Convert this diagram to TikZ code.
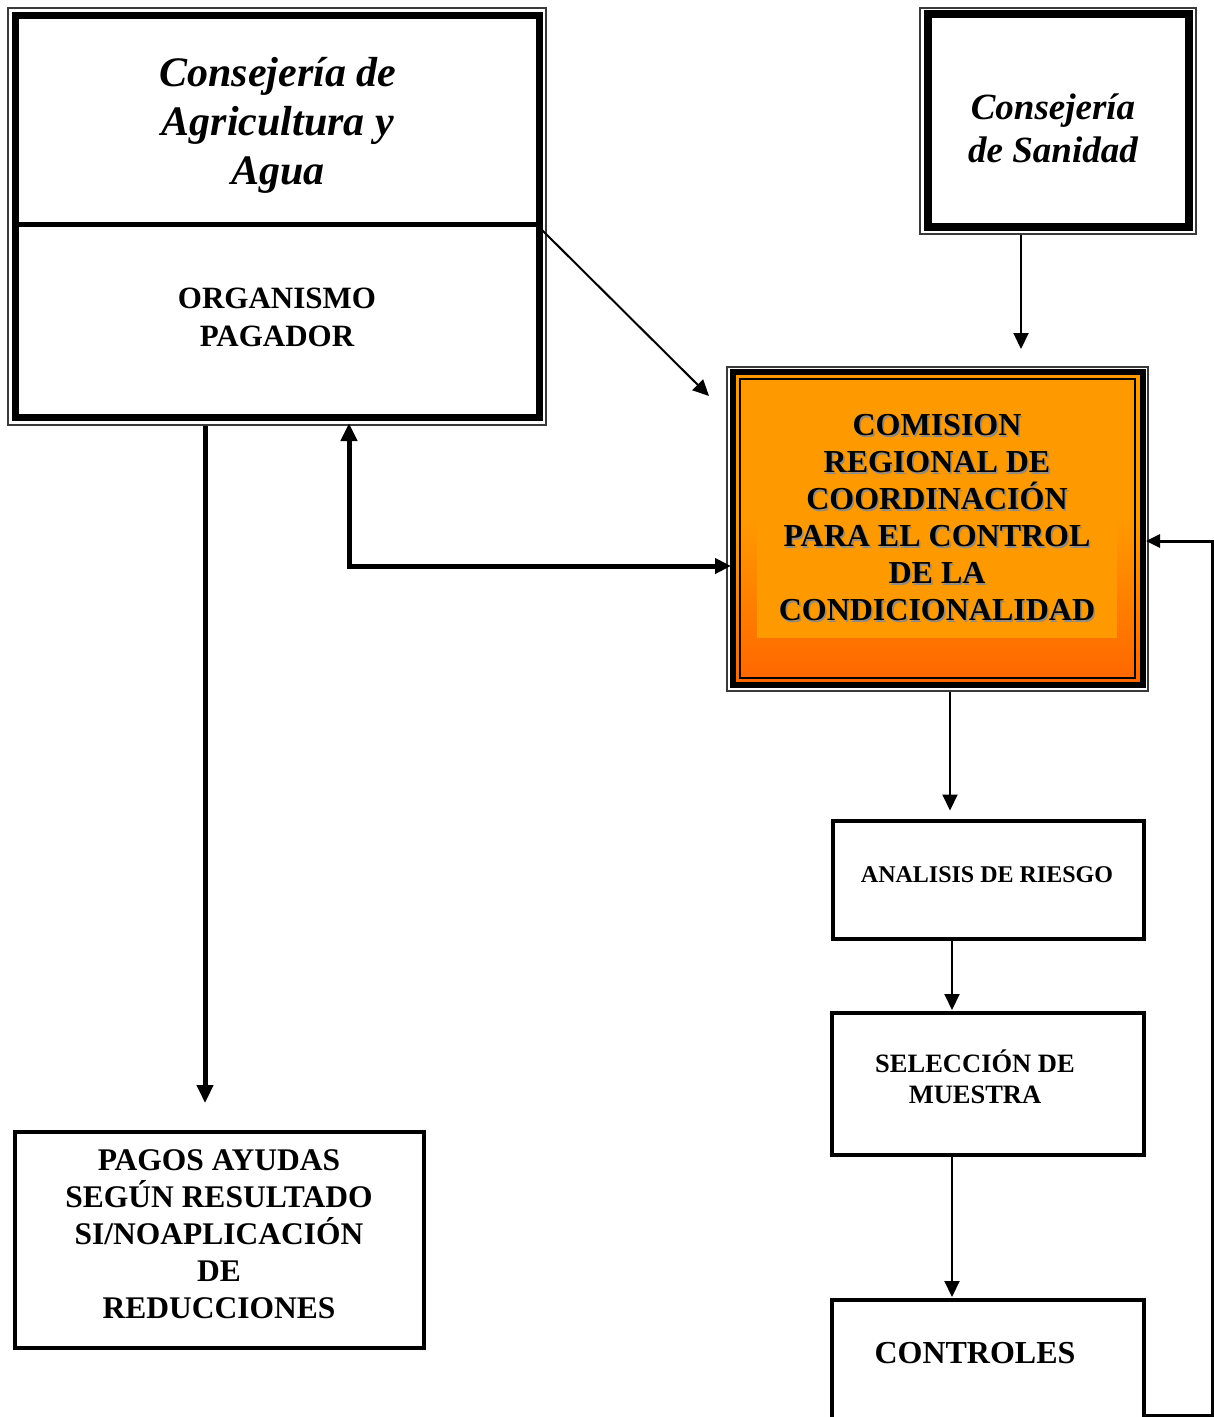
\documentclass[tikz,border=0pt]{standalone}
\usepackage{fontspec}
\setmainfont{Liberation Serif}
\usetikzlibrary{arrows.meta}
\definecolor{orA}{HTML}{FF9900}
\definecolor{orB}{HTML}{FF6600}
\definecolor{framegray}{HTML}{3A3A3A}
\definecolor{shadowgray}{HTML}{8C8C8C}
\newcommand{\comtext}{COMISION\\REGIONAL DE\\COORDINACIÓN\\PARA EL CONTROL\\DE LA\\CONDICIONALIDAD}
\begin{document}
\begin{tikzpicture}[x=1pt,y=-1pt,
  outerframe/.style={draw=framegray, line width=2pt, inner sep=0pt},
  heavybox/.style={draw, inner sep=0pt},
  plainbox/.style={draw, line width=4pt, inner sep=0pt, minimum width=311.5pt},
  lbl/.style={inner sep=0pt, align=center, text=black},
  thinarrow/.style={line width=2pt, -{Triangle[length=16pt,width=15pt]}},
  boldarrow/.style={line width=5pt, -{Triangle[length=18pt,width=16pt]}},
  dblarrow/.style={line width=5pt, {Triangle[length=16pt,width=15pt]}-{Triangle[length=18pt,width=16pt]}},
  fbarrow/.style={line width=3pt, -{Triangle[length=14pt,width=13pt]}}]
\clip (0,0) rectangle (1214,1417);
\fill[white] (0,0) rectangle (1214,1417);

% ---- Consejeria de Agricultura y Agua / Organismo Pagador
\node[outerframe, minimum width=538pt, minimum height=417pt] (agrframe) at (277,216.5) {};
\node[heavybox, line width=7pt, minimum width=523.5pt, minimum height=401.5pt] (agr) at (277.25,216.25) {};
\coordinate (divL) at (15.5,224);
\coordinate (divR) at (539,224);
\draw[line width=5pt] (divL) -- (divR);
\node[lbl, font=\fontsize{42}{49}\selectfont\bfseries\itshape] (agrtxt) at (278,125) {Consejería de\\Agricultura y\\Agua};
\node[lbl, font=\fontsize{31}{38}\selectfont\bfseries] (pagtxt) at (277,317) {ORGANISMO\\PAGADOR};

% ---- Consejeria de Sanidad
\node[outerframe, minimum width=276pt, minimum height=226pt] (sanframe) at (1058,121) {};
\node[heavybox, line width=8pt, minimum width=261pt, minimum height=213pt] (san) at (1058.5,120.5) {};
\node[lbl, font=\fontsize{37}{43}\selectfont\bfseries\itshape] (santxt) at (1053,128.5) {Consejería\\de Sanidad};

% ---- Comision regional (orange)
\fill[orA] (736,375) rectangle (1140,682);
\shade[top color=orA, bottom color=orB] (736,520) rectangle (1140,682);
\fill[orA] (757,398) rectangle (1117,638);
\draw[line width=2.5pt] (740,379) rectangle (1135,678);
\node[heavybox, line width=6pt, minimum width=410pt, minimum height=313pt] (com) at (938,528.5) {};
\node[outerframe, minimum width=421pt, minimum height=324pt] (comframe) at (937.5,529) {};
\node[lbl, text=shadowgray, font=\fontsize{32}{37}\selectfont\bfseries] (comshadow) at (938.6,519.6) {\comtext};
\node[lbl, font=\fontsize{32}{37}\selectfont\bfseries] (comtxt) at (937,518) {\comtext};

% ---- Right column boxes
\node[plainbox, minimum height=118.5pt] (ana) at (988.25,879.75) {};
\node[lbl, font=\fontsize{24}{28}\selectfont\bfseries] (anatxt) at (987,875) {ANALISIS DE RIESGO};
\node[plainbox, minimum height=142pt] (sel) at (987.75,1084) {};
\node[lbl, font=\fontsize{26.5}{31}\selectfont\bfseries] (seltxt) at (975,1076.5) {SELECCIÓN DE\\MUESTRA};
\node[plainbox, minimum height=125pt] (ctl) at (987.75,1362.5) {};
\node[lbl, font=\fontsize{32}{38}\selectfont\bfseries] (ctltxt) at (975,1353) {CONTROLES};

% ---- Pagos
\node[plainbox, minimum width=409pt, minimum height=216pt] (pag) at (219.5,1240) {};
\node[lbl, font=\fontsize{31.5}{37}\selectfont\bfseries] (pagostxt) at (219,1234) {PAGOS AYUDAS\\SEGÚN RESULTADO\\SI/NOAPLICACIÓN\\DE\\REDUCCIONES};

% ---- Connectors
\coordinate (dstart) at (541,229);
\coordinate (dend) at (709,396);
\draw[thinarrow] (dstart) -- (dend);

\coordinate (sx) at (1021,349);
\draw[thinarrow] (sanframe.south -| sx) -- (sx);

\coordinate (px) at (205,0);
\draw[boldarrow, shorten >=27pt] (agrframe.south -| px) -- (pag.north -| px);

\coordinate (bend) at (349,566);
\draw[dblarrow, shorten <=-5pt, shorten >=-3pt] (comframe.west |- bend) -- (bend) -- (agrframe.south -| bend);

\coordinate (ax) at (950,0);
\draw[thinarrow, shorten >=8pt] (comframe.south -| ax) -- (ana.north -| ax);
\coordinate (bx) at (952,0);
\draw[thinarrow, shorten >=1pt] (ana.south -| bx) -- (sel.north -| bx);
\draw[thinarrow, shorten >=1pt] (sel.south -| bx) -- (ctl.north -| bx);

\coordinate (fcorner) at (1212,1415);
\coordinate (ftop) at (1212,541);
\draw[fbarrow, shorten >=-3pt] (ctl.east |- fcorner) -- (fcorner) -- (ftop) -- (comframe.east |- ftop);
\end{tikzpicture}
\end{document}
